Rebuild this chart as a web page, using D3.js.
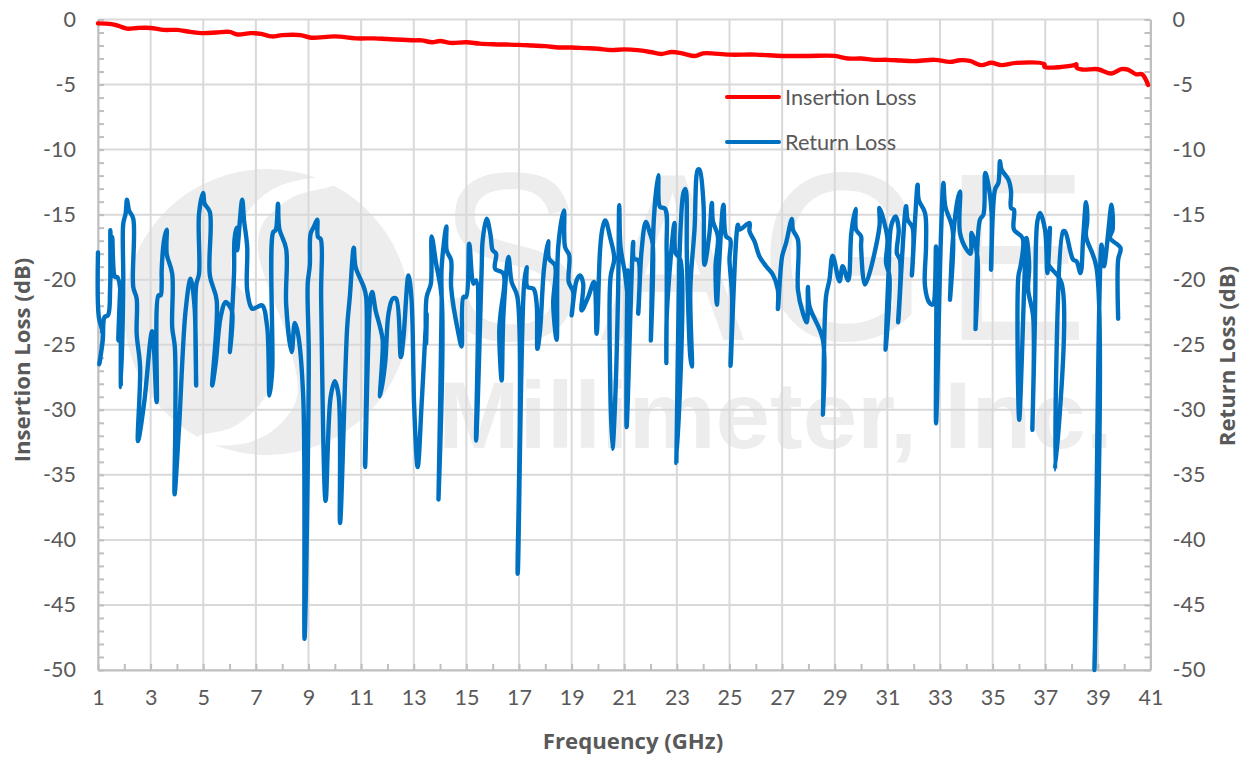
<!DOCTYPE html>
<html lang="en">
	<head>
		<meta charset="utf-8">
		<title>Insertion and Return Loss</title>
		<script src="https://d3js.org/d3.v7.min.js"></script>
		<style type="text/css">
		html, body { margin: 0; padding: 0; background: #fff; }
		text { font-family: Lato, "Open Sans", sans-serif; fill: #595959; }
		</style>
	</head>
	<body>
		<div id="chart"></div>
		<script type="text/javascript">
		// values
		var ilFreq = [1,1.5,1.8,2.1,2.5,3,3.5,4,4.5,5,5.5,6,6.3,6.8,7.2,7.6,8,8.7,9.1,10,10.8,11.5,12,13,13.3,13.7,14,14.4,15,15.5,16,17,17.5,18,18.5,19,19.5,20,20.5,21,21.5,22,22.4,22.8,23.2,23.7,24,25,26,27,28,29,29.5,30,30.5,31,31.5,32,32.8,33.37,33.75,34.13,34.57,34.95,35.33,35.9,36.97,36.97,38.11,38.18,38.2,38.43,39,39.51,39.89,40.14,40.46,40.68,40.91];
		var ilValues = [-0.3,-0.35,-0.5,-0.7,-0.65,-0.65,-0.8,-0.8,-0.95,-1.05,-1,-0.95,-1.15,-1.05,-1.1,-1.3,-1.2,-1.2,-1.4,-1.3,-1.45,-1.45,-1.5,-1.6,-1.6,-1.75,-1.65,-1.8,-1.75,-1.85,-1.9,-1.95,-2,-2.05,-2.15,-2.15,-2.2,-2.25,-2.35,-2.3,-2.35,-2.5,-2.65,-2.5,-2.6,-2.8,-2.6,-2.7,-2.7,-2.8,-2.8,-2.8,-3,-3,-3.1,-3.1,-3.15,-3.2,-3.1,-3.26,-3.13,-3.18,-3.51,-3.33,-3.51,-3.33,-3.44,-3.64,-3.51,-3.44,-3.72,-3.85,-3.82,-4.15,-3.82,-3.85,-4.21,-4.21,-5.03];

		var rlFreq = [1,1.03,1.18,1.05,1.18,1.25,1.38,1.46,1.47,1.51,1.54,1.65,1.73,1.86,1.77,1.86,1.87,1.96,1.96,2.05,2.1,2.18,2.34,2.34,2.47,2.47,2.6,2.52,2.75,3.06,3.23,3.3,3.38,3.42,3.42,3.51,3.61,3.61,3.82,3.82,3.92,3.94,3.91,4.08,4.33,4.52,4.67,4.73,4.73,4.84,4.84,5,5.05,5.25,5.25,5.51,5.34,5.47,5.66,5.85,5.98,6.1,6.01,6.17,6.19,6.27,6.29,6.48,6.55,6.67,6.67,6.86,7.05,7.24,7.43,7.52,7.62,7.66,7.75,7.84,7.89,8.15,8.15,8.36,8.48,8.6,8.8,8.85,9.01,8.97,9.05,9.08,9.2,9.33,9.36,9.46,9.48,9.65,9.84,10,10.15,10.2,10.47,10.57,10.72,10.79,11.1,11.19,11.15,11.36,11.42,11.55,11.72,11.82,11.72,11.91,12.04,12.2,12.33,12.51,12.61,12.8,12.91,12.99,13.01,13.15,13.3,13.49,13.47,13.49,13.65,13.68,13.85,14.06,13.94,14.06,14.06,14.24,14.25,14.42,14.42,14.7,14.82,14.89,14.99,15.11,15.27,15.37,15.37,15.58,15.62,15.77,15.92,16,16.13,16.09,16.41,16.3,16.25,16.34,16.41,16.6,16.72,16.94,16.95,17.19,17.29,17.32,17.55,17.67,17.7,17.8,17.95,18.11,18.14,18.37,18.3,18.43,18.49,18.71,18.75,18.91,18.89,19.06,19,19.19,19.32,19.44,19.38,19.63,19.85,19.95,20.08,20.17,20.28,20.46,20.62,20.48,20.46,20.55,20.65,20.77,20.81,20.86,21.03,21.15,21.13,21.09,21.34,21.37,21.53,21.53,21.66,21.82,21.98,22.08,22.01,22.13,22.29,22.36,22.55,22.61,22.6,22.62,22.91,22.95,23.13,22.98,23.08,23.1,23.25,23.33,23.38,23.51,23.57,23.51,23.67,23.8,23.86,24.01,24.05,24.24,24.33,24.37,24.56,24.47,24.52,24.6,24.77,24.87,25.03,25,25.1,25.04,25.32,25.38,25.76,25.76,25.95,26.14,26.39,26.65,26.84,26.84,27,27.15,27.37,27.41,27.6,27.6,27.79,27.94,27.98,28.04,28.55,28.55,28.67,28.8,28.92,29.18,29.3,29.51,29.63,29.79,29.81,30,30,30.15,30.7,30.7,31,30.95,31.08,30.93,31.05,31.14,31.31,31.43,31.36,31.48,31.41,31.71,31.77,31.96,31.93,32.06,32.15,32.19,32.43,32.47,32.43,32.6,32.72,32.85,32.85,33.04,33.13,33.2,33.48,33.38,33.48,33.67,33.76,33.76,34.01,34.16,34.2,34.42,34.35,34.52,34.65,34.72,34.8,34.96,34.94,35.09,35.22,35.28,35.34,35.6,35.7,35.7,35.81,35.81,36.14,36.06,35.98,36.01,36.23,36.29,36.39,36.35,36.54,36.51,36.61,36.7,36.8,36.99,37.08,37.18,37.11,37.62,37.37,37.68,37.75,38.06,38.19,38.34,38.44,38.55,38.6,38.55,38.95,38.87,39.14,39.23,39.52,39.56,39.46,39.86,39.77,39.77];
		var rlValues = [-17.9,-22.87,-24.15,-26.5,-24.67,-22.87,-22.74,-20.69,-16.2,-19.79,-16.72,-19.79,-19.79,-21.08,-24.67,-20.31,-28.26,-20.31,-15.69,-14.92,-13.85,-14.67,-15.31,-20.56,-21.46,-24.15,-26.72,-32.41,-29.54,-23.95,-29.41,-21.2,-21.2,-20.31,-19.28,-16.97,-16.15,-18,-19.54,-23.64,-25.18,-30.82,-36.5,-31.33,-22.36,-19.92,-22.1,-28.13,-20.44,-19.54,-14.92,-13.33,-14.15,-14.79,-19.67,-21.59,-28.13,-26.46,-22.87,-21.72,-21.97,-22.49,-25.56,-19.54,-16.85,-16,-17.74,-13.85,-15.44,-17.49,-20.82,-22.23,-22.1,-21.97,-23.64,-28.9,-26.97,-16.33,-16.2,-14.15,-16.08,-17.62,-21.85,-25.56,-23.33,-24.15,-29.03,-47.6,-25.95,-20.31,-18.9,-16.46,-15.95,-15.38,-16.72,-16.85,-21.33,-37,-29.03,-27.8,-29.03,-38.7,-23.64,-21.33,-17.54,-19.03,-20.56,-21.33,-34.4,-21.33,-20.95,-22.36,-23.64,-24.67,-28.97,-26.46,-22.62,-21.46,-21.46,-25.95,-24.41,-19.67,-21.33,-27.49,-29.41,-34.4,-29.54,-22.62,-24.92,-21.33,-20.31,-16.67,-18.77,-21.33,-36.9,-21.85,-19.03,-15.9,-17.74,-18.51,-20.56,-24.15,-25.13,-21.33,-21.33,-17.23,-20.31,-20.05,-32.36,-19.28,-16.97,-15.31,-16.59,-17.74,-18,-19.15,-19.54,-22.62,-23.9,-27.74,-22.62,-18.26,-20.18,-21.33,-42.6,-20.44,-19.03,-20.56,-20.69,-21.85,-25.31,-23.9,-19.15,-17.05,-18.38,-18.9,-21.85,-24.62,-17.49,-14.67,-17.49,-18.13,-20.18,-20.95,-22.74,-20.05,-19.67,-20.31,-22.36,-21.33,-20.18,-24.15,-17.74,-16.08,-15.44,-16.72,-18.38,-19.79,-26.97,-33,-29.54,-20.56,-14.28,-17.49,-19.54,-21.46,-19.28,-31.33,-17.1,-18.38,-18.51,-22.62,-17.74,-15.56,-16.46,-17.23,-24.67,-15.18,-11.97,-14.41,-14.54,-17.62,-26.41,-22.56,-15.64,-17.95,-18.46,-34.1,-20.26,-18.21,-13.33,-13.03,-18.21,-25.9,-26.67,-20.77,-16.15,-11.54,-11.54,-14.1,-18.85,-16.41,-14.1,-15.51,-16.67,-18.97,-21.92,-18.97,-14.23,-16.67,-16.92,-18.46,-21.28,-26.62,-15.77,-16.15,-15.64,-16.28,-17.05,-18.21,-18.97,-19.62,-20.77,-22.26,-18.21,-17.18,-15.33,-16.15,-16.92,-20.77,-22.56,-23.28,-20.56,-22.05,-24.62,-30.38,-21.28,-20,-18.15,-20.13,-18.97,-20.05,-16.41,-14.56,-16.15,-16.67,-17.44,-20.38,-15.9,-14.49,-16.79,-18.72,-19.74,-25.38,-19.23,-15.9,-15.13,-16.15,-17.95,-18.46,-23.28,-14.36,-15.38,-16.03,-19.69,-15.13,-12.69,-13.85,-14.87,-17.31,-20.51,-21.79,-21.92,-17.44,-31.03,-16.41,-12.56,-14.36,-16.15,-21.54,-17.18,-13.85,-13.21,-16.41,-17.69,-18,-16.41,-18.21,-23.79,-15.38,-15,-11.79,-12.31,-14.87,-19.23,-13.08,-12.56,-10.9,-11.54,-12.31,-13.21,-14.49,-14.62,-16.15,-16.79,-18.97,-19.74,-30.77,-18.97,-16.79,-18.97,-20.77,-22.82,-31.54,-22.82,-15.51,-14.87,-16.15,-19.49,-16.03,-18.72,-20.26,-34.6,-16.28,-16.28,-18.46,-18.59,-19.49,-16.79,-14.05,-15.38,-16.67,-19.1,-50,-17.31,-18.97,-14.23,-16.15,-16.79,-17.56,-18.46,-23];

		var xTicks = [1,3,5,7,9,11,13,15,17,19,21,23,25,27,29,31,33,35,37,39,41];
		var yTicks = [0,-5,-10,-15,-20,-25,-30,-35,-40,-45,-50];
		var seriesNames = ["Insertion Loss", "Return Loss"];
		var xTitle = "Frequency (GHz)";
		var yTitleLeft = "Insertion Loss (dB)";
		var yTitleRight = "Return Loss (dB)";

		//Width and height
		var w = 1248;
		var h = 758;
		var left = 98, right = 1150.5, top_ = 19.5, bottom = 670;
		var grey = "#d9d9d9", axisGrey = "#bfbfbf";

		//Create scale functions
		var xScale = d3.scaleLinear().domain([1, 41]).range([left, right]);
		var yScale = d3.scaleLinear().domain([0, -50]).range([top_, bottom]);

		//Create SVG element
		var svg = d3.select("#chart")
			.append("svg")
			.attr("width", w)
			.attr("height", h)
			.style("display", "block");

		// watermark sits behind everything: a disc with a white swoosh through it, then the name
		var wm = svg.append("g").attr("id", "watermark");
		var wmFill = "#ededed";
		wm.append("circle")
			.attr("cx", 267).attr("cy", 312).attr("r", 143)
			.attr("fill", wmFill);
		wm.append("path")
			.attr("fill", "#fff")
			.attr("d", d3.line().curve(d3.curveCatmullRomClosed)([
				[327,178],[277,187],[247,213],[233,250],[232,277],[247,297],[267,323],[275,363],[263,400],[233,427],[198,437],
				[210,444],[247,443],[277,427],[297,397],[287,337],[267,283],[258,250],[263,223],[293,197],[335,184]
			]));
		wm.append("text")
			.attr("transform", "translate(0,340) scale(0.9,1)")
			.attr("x", "487 667 844 1049")
			.style("font-family", "'Liberation Sans', sans-serif")
			.style("font-size", "240px")
			.style("fill", wmFill)
			.text("SAGE");
		wm.append("text")
			.attr("x", 438).attr("y", 448)
			.attr("textLength", 675).attr("lengthAdjust", "spacingAndGlyphs")
			.style("font-family", "'Liberation Sans', sans-serif")
			.style("font-weight", "bold")
			.style("font-size", "95px")
			.style("fill", wmFill)
			.text("Millimeter, Inc.");

		// grid
		svg.append("g").selectAll("line").data(xTicks).enter().append("line")
			.attr("x1", d => xScale(d)).attr("x2", d => xScale(d))
			.attr("y1", top_).attr("y2", bottom)
			.attr("stroke", grey).attr("stroke-width", 2);
		svg.append("g").selectAll("line").data(yTicks).enter().append("line")
			.attr("x1", left).attr("x2", right)
			.attr("y1", d => yScale(d)).attr("y2", d => yScale(d))
			.attr("stroke", grey).attr("stroke-width", 2);

		//Define axes
		var yMinor = d3.range(0, -51, -1);
		var xMinor = d3.range(1, 42, 1);

		function styleAxis(g) {
			g.selectAll("path, line").attr("stroke", axisGrey).attr("stroke-width", 2);
			g.selectAll("text").style("font-size", "21.5px").attr("fill", "#595959");
		}

		// minor ticks point inward, the labels are drawn by a second axis
		svg.append("g").attr("transform", "translate(" + left + ",0)")
			.call(d3.axisRight(yScale).tickValues(yMinor).tickSize(6).tickFormat("").tickSizeOuter(0))
			.call(styleAxis);
		svg.append("g").attr("transform", "translate(" + right + ",0)")
			.call(d3.axisLeft(yScale).tickValues(yMinor).tickSize(6).tickFormat("").tickSizeOuter(0))
			.call(styleAxis);
		svg.append("g").attr("transform", "translate(0," + bottom + ")")
			.call(d3.axisTop(xScale).tickValues(xMinor).tickSize(6).tickFormat("").tickSizeOuter(0))
			.call(styleAxis);

		// tick labels
		var yLabels = d3.axisLeft(yScale).tickValues(yTicks).tickSize(0).tickPadding(22).tickFormat(d => String(d));
		svg.append("g").attr("transform", "translate(" + left + ",0)").call(yLabels).call(styleAxis)
			.select(".domain").remove();
		svg.append("g").attr("transform", "translate(" + right + ",0)")
			.call(d3.axisRight(yScale).tickValues(yTicks).tickSize(0).tickPadding(22).tickFormat(d => String(d)))
			.call(styleAxis)
			.select(".domain").remove();
		svg.append("g").attr("transform", "translate(0," + bottom + ")")
			.call(d3.axisBottom(xScale).tickValues(xTicks).tickSize(0).tickPadding(20).tickFormat(d => String(d)))
			.call(styleAxis)
			.select(".domain").remove();

		// series
		var line = d3.line()
			.x(d => xScale(d[0]))
			.y(d => yScale(d[1]))
			.curve(d3.curveCatmullRom.alpha(0.5));

		svg.append("path")
			.attr("d", line(d3.zip(rlFreq, rlValues)))
			.attr("fill", "none").attr("stroke", "#0070c0")
			.attr("stroke-width", 4.4).attr("stroke-linejoin", "round").attr("stroke-linecap", "round");
		svg.append("path")
			.attr("d", line(d3.zip(ilFreq, ilValues)))
			.attr("fill", "none").attr("stroke", "#ff0000")
			.attr("stroke-width", 4.4).attr("stroke-linejoin", "round").attr("stroke-linecap", "round");

		// legend
		var legendColors = ["#ff0000", "#0070c0"];
		var legendY = [97, 142];
		var legend = svg.append("g").selectAll("g").data(seriesNames).enter().append("g");
		legend.append("line")
			.attr("x1", 727).attr("x2", 779)
			.attr("y1", (d, i) => legendY[i]).attr("y2", (d, i) => legendY[i])
			.attr("stroke", (d, i) => legendColors[i]).attr("stroke-width", 4).attr("stroke-linecap", "round");
		legend.append("text")
			.attr("x", 785)
			.attr("y", (d, i) => legendY[i] + 8)
			.style("font-size", "21.7px")
			.text(d => d);

		// axis titles
		var titleFont = "'Open Sans', sans-serif";
		svg.append("text")
			.attr("x", 633).attr("y", 749)
			.attr("text-anchor", "middle")
			.style("font-family", titleFont).style("font-size", "22.2px").style("font-weight", "bold")
			.text(xTitle);
		svg.append("text")
			.attr("transform", "translate(30,360) rotate(-90)")
			.attr("text-anchor", "middle")
			.style("font-family", titleFont).style("font-size", "22.2px").style("font-weight", "bold")
			.text(yTitleLeft);
		svg.append("text")
			.attr("transform", "translate(1235,356) rotate(-90)")
			.attr("text-anchor", "middle")
			.style("font-family", titleFont).style("font-size", "22.2px").style("font-weight", "bold")
			.text(yTitleRight);
		</script>
	</body>
</html>
